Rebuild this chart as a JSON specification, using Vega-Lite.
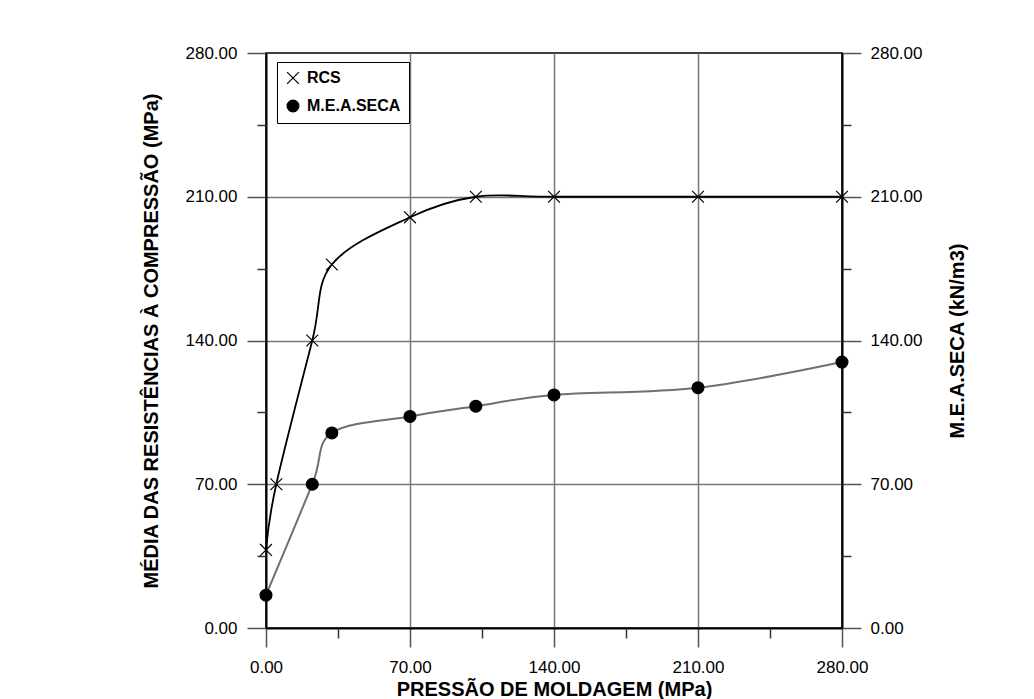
{
  "$schema": "https://vega.github.io/schema/vega-lite/v6.json",
  "width": 576,
  "height": 575,
  "autosize": {"type": "none"},
  "padding": {"left": 266, "top": 53, "right": 192, "bottom": 71},
  "background": "white",
  "config": {
    "view": {"stroke": "black", "strokeWidth": 1.5},
    "font": "Liberation Sans",
    "axis": {
      "labelFont": "Liberation Sans",
      "labelFontSize": 17,
      "labelColor": "black",
      "labelFlush": false,
      "labelOverlap": false,
      "titleFont": "Liberation Sans",
      "titleFontSize": 20,
      "titleFontWeight": "bold",
      "titleColor": "black",
      "domainColor": "black",
      "domainWidth": 2,
      "tickColor": "#555",
      "tickWidth": 1.5,
      "gridColor": "#777",
      "gridWidth": 1.5
    },
    "legend": {
      "labelFont": "Liberation Sans",
      "labelFontSize": 16,
      "labelFontWeight": "bold",
      "labelColor": "black"
    }
  },
  "data": {
    "values": [
      {"p": 0, "v": 38, "s": "RCS"},
      {"p": 5, "v": 70, "s": "RCS"},
      {"p": 22.5, "v": 140, "s": "RCS"},
      {"p": 32, "v": 177, "s": "RCS"},
      {"p": 70, "v": 200, "s": "RCS"},
      {"p": 102, "v": 210, "s": "RCS"},
      {"p": 140, "v": 210, "s": "RCS"},
      {"p": 210, "v": 210, "s": "RCS"},
      {"p": 280, "v": 210, "s": "RCS"},
      {"p": 0, "v": 16, "s": "M.E.A.SECA"},
      {"p": 22.5, "v": 70, "s": "M.E.A.SECA"},
      {"p": 32, "v": 95, "s": "M.E.A.SECA"},
      {"p": 70, "v": 103, "s": "M.E.A.SECA"},
      {"p": 102, "v": 108, "s": "M.E.A.SECA"},
      {"p": 140, "v": 113.5, "s": "M.E.A.SECA"},
      {"p": 210, "v": 117, "s": "M.E.A.SECA"},
      {"p": 280, "v": 129.5, "s": "M.E.A.SECA"}
    ]
  },
  "layer": [
    {
      "transform": [{"filter": "datum.s === 'RCS'"}],
      "mark": {"type": "line", "color": "black", "strokeWidth": 1.8, "interpolate": "cardinal"},
      "encoding": {
        "x": {
          "field": "p", "type": "quantitative",
          "scale": {"domain": [0, 280], "nice": false},
          "axis": {
            "orient": "bottom", "values": [0, 70, 140, 210, 280], "format": ".2f",
            "tickSize": 19, "labelPadding": 12,
            "title": "PRESSÃO DE MOLDAGEM (MPa)", "titlePadding": 4,
            "grid": true,
            "gridColor": {"condition": {"test": "datum.value == 0 || datum.value == 280", "value": "transparent"}, "value": "#777"}
          }
        },
        "y": {
          "field": "v", "type": "quantitative",
          "scale": {"domain": [0, 280], "nice": false},
          "axis": {
            "orient": "left", "values": [0, 70, 140, 210, 280], "format": ".2f",
            "tickSize": 19, "labelPadding": 10,
            "title": "MÉDIA DAS RESISTÊNCIAS À COMPRESSÃO (MPa)", "titlePadding": 24,
            "grid": true,
            "gridColor": {"condition": {"test": "datum.value == 0 || datum.value == 280", "value": "transparent"}, "value": "#777"}
          }
        }
      }
    },
    {
      "transform": [{"filter": "datum.s === 'M.E.A.SECA'"}],
      "mark": {"type": "line", "color": "#707070", "strokeWidth": 2, "interpolate": "cardinal"},
      "encoding": {
        "x": {
          "field": "p", "type": "quantitative",
          "axis": {
            "orient": "bottom", "values": [35, 105, 175, 245], "tickSize": 10,
            "labels": false, "domain": false, "title": null, "grid": false, "tickColor": "#333"
          }
        },
        "y": {
          "field": "v", "type": "quantitative",
          "axis": {
            "orient": "right", "values": [0, 70, 140, 210, 280], "format": ".2f",
            "tickSize": 19, "labelPadding": 9,
            "title": "M.E.A.SECA (kN/m3)", "titleAngle": 270, "titlePadding": 46,
            "grid": false
          }
        }
      }
    },
    {
      "mark": {"type": "point", "filled": false, "color": "black", "strokeWidth": 1.2, "size": 140, "opacity": 1},
      "encoding": {
        "x": {"field": "p", "type": "quantitative", "axis": null},
        "y": {
          "field": "v", "type": "quantitative",
          "axis": {
            "orient": "left", "values": [35, 105, 175, 245], "tickSize": 9,
            "labels": false, "domain": false, "title": null, "grid": false, "tickColor": "#333"
          }
        },
        "shape": {
          "field": "s", "type": "nominal",
          "scale": {"domain": ["RCS", "M.E.A.SECA"], "range": ["M-1,-1L1,1M-1,1L1,-1", "circle"]},
          "legend": {
            "title": null, "orient": "none", "legendX": 11, "legendY": 9,
            "strokeColor": "black", "fillColor": "white", "padding": 8,
            "rowPadding": 10, "labelOffset": 6, "symbolSize": 140,
            "symbolStrokeWidth": 1.2
          }
        },
        "fill": {
          "field": "s", "type": "nominal",
          "scale": {"domain": ["RCS", "M.E.A.SECA"], "range": ["transparent", "black"]},
          "legend": {
            "title": null, "orient": "none", "legendX": 11, "legendY": 9,
            "strokeColor": "black", "fillColor": "white", "padding": 8,
            "rowPadding": 10, "labelOffset": 6, "symbolSize": 140,
            "symbolStrokeWidth": 1.2
          }
        }
      }
    },
    {
      "mark": {"type": "point", "opacity": 0},
      "encoding": {
        "x": {"field": "p", "type": "quantitative", "axis": null},
        "y": {
          "field": "v", "type": "quantitative",
          "axis": {
            "orient": "right", "values": [35, 105, 175, 245], "tickSize": 9,
            "labels": false, "domain": false, "title": null, "grid": false, "tickColor": "#333"
          }
        }
      }
    }
  ],
  "resolve": {"axis": {"x": "independent", "y": "independent"}}
}
